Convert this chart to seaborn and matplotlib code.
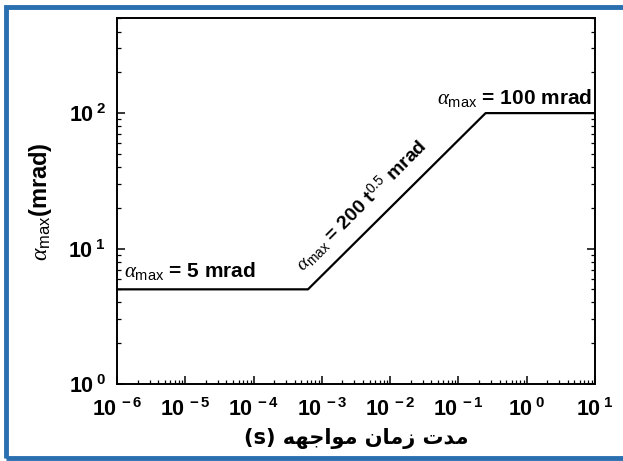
import numpy as np
import pandas as pd
import matplotlib
matplotlib.use("Agg")
import matplotlib.pyplot as plt
import seaborn as sns
from matplotlib.patches import Rectangle
from matplotlib.ticker import LogLocator, FixedLocator, NullFormatter

# ---- data ----
exposure_time_s = [1e-6, 6.25e-4, 0.25, 10.0]
alpha_max_mrad = [5.0, 5.0, 100.0, 100.0]
x_ticks = [1e-6, 1e-5, 1e-4, 1e-3, 1e-2, 1e-1, 1e0, 1e1]
x_tick_labels = [r"$\mathbf{10^{\ -6}}$", r"$\mathbf{10^{\ -5}}$", r"$\mathbf{10^{\ -4}}$",
                 r"$\mathbf{10^{\ -3}}$", r"$\mathbf{10^{\ -2}}$", r"$\mathbf{10^{\ -1}}$",
                 r"$\mathbf{10^{\ 0}}$", r"$\mathbf{10^{\ 1}}$"]
y_ticks = [1e0, 1e1, 1e2]
y_tick_labels = [r"$\mathbf{10^{\ 0}}$", r"$\mathbf{10^{\ 1}}$", r"$\mathbf{10^{\ 2}}$"]
# Persian x label "مدت زمان مواجهه (s)" in visual (shaped) order
x_label = "(s) " + "\uFEEA\uFEEC\uFE9F\uFE8D\uFEEE\uFEE3" + " " + "\uFEE5\uFE8E\uFEE3\uFEAF" + " " + "\uFE95\uFEAA\uFEE3"

df = pd.DataFrame({"t": exposure_time_s, "a": alpha_max_mrad})

sns.set_theme(style="white")
plt.rcParams["font.family"] = ["Liberation Sans", "DejaVu Sans"]
plt.rcParams["mathtext.fontset"] = "custom"
plt.rcParams["mathtext.rm"] = "Liberation Sans"
plt.rcParams["mathtext.bf"] = "Liberation Sans:bold"
plt.rcParams["mathtext.it"] = "Liberation Serif:italic"
plt.rcParams["text.color"] = "black"
plt.rcParams["axes.labelcolor"] = "black"
plt.rcParams["xtick.color"] = "black"
plt.rcParams["ytick.color"] = "black"

fig = plt.figure(figsize=(6.23, 4.61), dpi=100)
fig.patch.set_facecolor("white")
ax = fig.add_axes([0.188, 0.167, 0.767, 0.793])

sns.lineplot(data=df, x="t", y="a", ax=ax, color="black", linewidth=1.6, legend=False)
ax.set_xscale("log")
ax.set_yscale("log")
ax.set_xlim(1e-6, 10)
ax.set_ylim(1, 500)

for s in ax.spines.values():
    s.set_color("black")
    s.set_linewidth(1.4)

ax.xaxis.set_major_locator(FixedLocator(x_ticks))
ax.set_xticklabels(x_tick_labels, fontsize=15.5, color="black")
ax.yaxis.set_major_locator(FixedLocator(y_ticks))
ax.set_yticklabels(y_tick_labels, fontsize=15.5, color="black")
ax.xaxis.set_minor_locator(LogLocator(base=10, subs=np.arange(2, 10)))
ax.yaxis.set_minor_locator(LogLocator(base=10, subs=np.arange(2, 10)))
ax.xaxis.set_minor_formatter(NullFormatter())
ax.yaxis.set_minor_formatter(NullFormatter())
ax.tick_params(which="major", direction="in", length=6, width=1.1, color="black",
               left=True, right=True, bottom=True, top=False, pad=8)
ax.tick_params(which="minor", direction="in", length=3, width=0.9, color="black",
               left=True, right=True, bottom=True, top=False)
ax.tick_params(axis="x", which="major", pad=10)

ax.set_xlabel(x_label, fontsize=15, fontweight="bold", family=["DejaVu Sans"], labelpad=5,
              color="black")
ax.set_ylabel(r"$\alpha_{\mathrm{max}}$(mrad)", fontsize=17, fontweight="bold", labelpad=10,
              color="black")

ax.text(1.25e-6, 5.7, r"$\alpha_{\mathrm{max}}$ = 5 mrad", fontsize=15, fontweight="bold",
        ha="left", va="bottom", color="black")
ax.text(9.0, 108, r"$\alpha_{\mathrm{max}}$ = 100 mrad", fontsize=15, fontweight="bold",
        ha="right", va="bottom", color="black")
ax.text(6.0e-4, 6.3, r"$\alpha_{\mathrm{max}}$ = 200 t$^{0.5}$ mrad", fontsize=14, fontweight="bold",
        ha="left", va="bottom", rotation=45, rotation_mode="anchor", color="black")

fig.patches.append(Rectangle((0.01, 0.006), 1.0, 0.979, transform=fig.transFigure,
                             fill=False, edgecolor="#2a6fb0", linewidth=3.5, clip_on=False))

fig.savefig("out.png", dpi=100, facecolor="white")
